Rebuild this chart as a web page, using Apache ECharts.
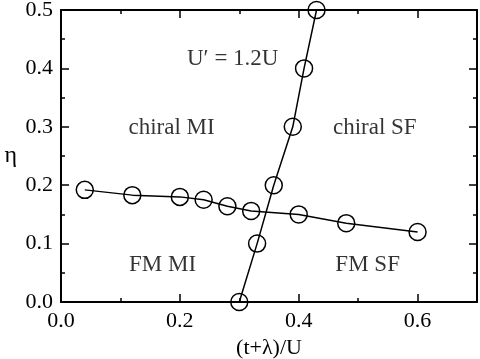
<!DOCTYPE html>
<html>
<head>
<meta charset="utf-8">
<script src="https://cdn.jsdelivr.net/npm/echarts@6/dist/echarts.min.js"></script>
<style>
  html, body { margin: 0; padding: 0; background: #fff; }
  #chart { width: 480px; height: 359px; }
</style>
</head>
<body>
<div id="chart"></div>
<script>
// boundary between MI and SF (nearly horizontal)
const mfX = [0.04, 0.12, 0.20, 0.24, 0.28, 0.32, 0.40, 0.48, 0.60];
const mfY = [0.192, 0.183, 0.180, 0.175, 0.164, 0.156, 0.150, 0.135, 0.120];
// boundary between FM and chiral (steep)
const chX = [0.30, 0.33, 0.358, 0.39, 0.409, 0.43];
const chY = [0.0, 0.10, 0.20, 0.30, 0.40, 0.50];
// phase labels
const labelText = ["U\u2032 = 1.2U", "chiral MI", "chiral SF", "FM MI", "FM SF"];
const labelX = [0.289, 0.186, 0.528, 0.171, 0.516];
const labelY = [0.417, 0.298, 0.298, 0.063, 0.063];

const font = "Liberation Serif";
let myChart = echarts.init(document.getElementById("chart"));

function xAx(pos, interval, len, labels) {
  return {
    type: "value", position: pos, min: 0, max: 0.7, interval: interval,
    axisLine: { show: len > 5, onZero: false, lineStyle: { color: "#000", width: 2 } },
    axisTick: { show: true, inside: true, length: len, lineStyle: { color: "#000", width: 1.5 } },
    axisLabel: {
      show: labels, margin: 8, color: "#000", fontFamily: font, fontSize: 22,
      formatter: v => (Math.abs(v - 0.7) < 1e-6 ? "" : v.toFixed(1))
    },
    splitLine: { show: false },
    name: labels ? "(t+\u03bb)/U" : "",
    nameLocation: "middle", nameGap: 34,
    nameTextStyle: { color: "#000", fontFamily: font, fontSize: 22 }
  };
}
function yAx(pos, labels) {
  return {
    type: "value", position: pos, min: 0, max: 0.5, interval: 0.1,
    axisLine: { show: true, onZero: false, lineStyle: { color: "#000", width: 2 } },
    axisTick: { show: true, inside: true, length: 8, lineStyle: { color: "#000", width: 1.5 } },
    minorTick: { show: true, splitNumber: 2, length: 4, lineStyle: { color: "#000", width: 1.5 } },
    axisLabel: {
      show: labels, margin: 8, color: "#000", fontFamily: font, fontSize: 22,
      formatter: v => v.toFixed(1)
    },
    splitLine: { show: false },
    name: labels ? "\u03b7" : "",
    nameLocation: "middle", nameGap: 44, nameRotate: 0,
    nameTextStyle: { color: "#000", fontFamily: font, fontSize: 24 }
  };
}

let option = {
  animation: false,
  grid: { left: 61, right: 3, top: 10, bottom: 57, outerBoundsMode: "none" },
  xAxis: [
    xAx("bottom", 0.2, 8, true),
    xAx("bottom", 0.1, 4, false),
    xAx("top", 0.2, 8, false),
    xAx("top", 0.1, 4, false)
  ],
  yAxis: [yAx("left", true), yAx("right", false)],
  series: [
    {
      type: "line", xAxisIndex: 0, yAxisIndex: 0,
      data: mfX.map((x, i) => [x, mfY[i]]),
      symbol: "circle", symbolSize: 17,
      lineStyle: { color: "#000", width: 1.5 },
      itemStyle: { color: "rgba(0,0,0,0)", borderColor: "#000", borderWidth: 1.5 },
      z: 3
    },
    {
      type: "line", xAxisIndex: 0, yAxisIndex: 0,
      data: chX.map((x, i) => [x, chY[i]]),
      symbol: "circle", symbolSize: 17,
      lineStyle: { color: "#000", width: 1.5 },
      itemStyle: { color: "rgba(0,0,0,0)", borderColor: "#000", borderWidth: 1.5 },
      z: 3
    },
    {
      type: "scatter", xAxisIndex: 0, yAxisIndex: 0,
      data: labelX.map((x, i) => [x, labelY[i], labelText[i]]),
      symbolSize: 0, silent: true,
      label: {
        show: true, position: "inside", color: "#000",
        fontFamily: font, fontSize: 23,
        formatter: p => p.data[2]
      }
    }
  ]
};
myChart.setOption(option);
window.addEventListener("resize", () => myChart.resize(), false);
</script>
</body>
</html>
